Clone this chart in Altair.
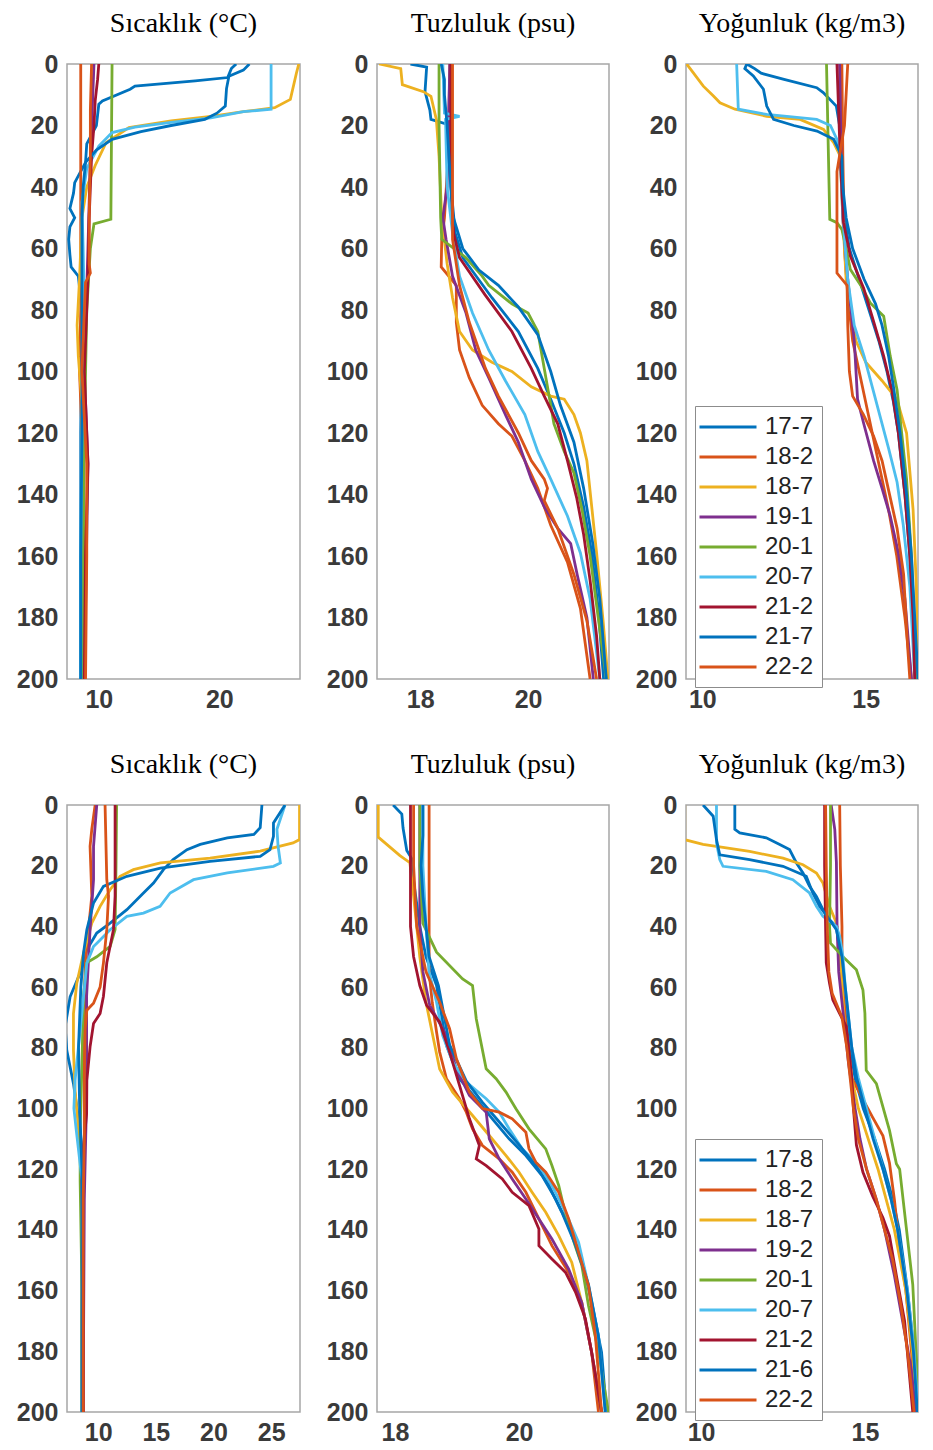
import altair as alt
import pandas as pd

TOP_STATIONS = ["17-7", "18-2", "18-7", "19-1", "20-1", "20-7", "21-2", "21-7", "22-2"]
BOTTOM_STATIONS = ["17-8", "18-2", "18-7", "19-2", "20-1", "20-7", "21-2", "21-6", "22-2"]
LINE_COLORS = ["#0072BD", "#D95319", "#EDB120", "#7E2F8E", "#77AC30",
               "#4DBEEE", "#A2142F", "#0072BD", "#D95319"]

DEPTH_TICKS = [0, 20, 40, 60, 80, 100, 120, 140, 160, 180, 200]
TITLES = ["Sıcaklık (°C)", "Tuzluluk (psu)", "Yoğunluk (kg/m3)"]

# (depth, value) pairs
TEMP_TOP = {
    "17-7": [(0, 21.4), (1.5, 21.0), (4.4, 20.7), (5.5, 18.0), (7.2, 13.0), (8.2, 12.6), (12, 10.3), (13.1, 10.0),
             (20, 9.8), (26, 9.0), (32, 8.9), (38.6, 8.0), (42, 7.9), (47, 7.6), (50, 8.0), (53, 7.6), (57, 7.5),
             (62, 7.6), (66, 7.7), (69, 8.3), (80, 8.6), (120, 8.5), (160, 8.5), (200, 8.5)],
    "18-2": [(0, 8.5), (20, 8.5), (50, 8.5), (80, 8.5), (100, 8.4), (130, 8.7), (160, 8.8), (200, 8.8)],
    "18-7": [(0, 26.6), (3, 26.4), (11.5, 25.9), (14.2, 24.6), (15.5, 22.0), (17, 19.3), (18.5, 16.0), (20.7, 12.5),
             (25.6, 10.6), (33, 9.7), (40, 9.0), (50, 8.6), (70, 8.4), (85, 8.2), (95, 8.3), (110, 8.6), (150, 8.6),
             (200, 8.6)],
    "19-1": [(0, 9.6), (30, 9.3), (60, 9.1), (100, 8.8), (130, 9.1), (200, 8.8)],
    "20-1": [(0, 11.1), (50.5, 11.0), (52, 9.6), (60, 9.3), (80, 9.0), (120, 8.8), (160, 8.7), (200, 8.7)],
    "20-7": [(0, 24.3), (14.7, 24.3), (15.5, 22.0), (17.5, 19.3), (19, 16.0), (20.5, 13.0), (22.3, 11.1), (26.7, 10.0),
             (34, 9.0), (45, 8.6), (60, 8.7), (80, 8.8), (120, 8.6), (160, 8.5), (200, 8.5)],
    "21-2": [(0, 10.0), (5, 9.9), (12, 9.7), (20, 9.6), (30, 9.4), (50, 9.2), (70, 9.1), (100, 8.8), (130, 9.1),
             (160, 8.9), (200, 8.8)],
    "21-7": [(0, 22.5), (2, 22.0), (4, 20.8), (8, 20.6), (13.7, 20.5), (16, 19.8), (18, 18.8), (20, 16.0), (22, 13.5),
             (24.5, 11.1), (28, 9.8), (32, 8.9), (40, 8.7), (50, 8.6), (80, 8.6), (120, 8.6), (160, 8.5), (200, 8.5)],
    "22-2": [(0, 9.4), (15, 9.3), (30, 9.3), (50, 9.2), (65, 9.2), (68, 9.3), (71, 8.9), (80, 8.8), (100, 8.6),
             (130, 9.0), (160, 9.0), (200, 8.9)],
}

SAL_TOP = {
    "17-7": [(0, 17.82), (1, 18.12), (9, 18.09), (15, 18.18), (18, 18.2), (19.5, 18.48), (21, 18.55), (40, 18.57),
             (55, 18.65), (63, 18.79), (76, 19.33), (87, 19.82), (99, 20.18), (109, 20.42), (120, 20.67), (130, 20.85),
             (144, 21.03), (159, 21.18), (177, 21.3), (200, 21.4)],
    "18-2": [(0, 18.55), (30, 18.52), (50, 18.45), (57, 18.4), (66, 18.39), (72, 18.67), (84, 18.67), (93, 18.73),
             (102, 18.91), (111, 19.15), (117, 19.45), (121, 19.7), (129, 19.94), (138, 20.18), (150, 20.42),
             (162, 20.73), (177, 20.97), (200, 21.15)],
    "18-7": [(0, 17.24), (1.5, 17.64), (6.7, 17.67), (9, 18.06), (10.5, 18.2), (18, 18.3), (30, 18.35), (50, 18.4),
             (65, 18.5), (76, 18.6), (87, 18.73), (93, 18.97), (97, 19.33), (100, 19.7), (105, 20.06), (108, 20.42),
             (109, 20.67), (114, 20.85), (120, 20.97), (129, 21.09), (144, 21.18), (159, 21.27), (181, 21.39),
             (200, 21.48)],
    "19-1": [(0, 18.55), (40, 18.5), (50, 18.42), (57, 18.48), (69, 18.6), (81, 18.85), (93, 19.03), (102, 19.27),
             (114, 19.58), (123, 19.82), (135, 20.06), (144, 20.3), (151, 20.55), (156, 20.79), (166, 20.91),
             (180, 21.09), (200, 21.21)],
    "20-1": [(0, 18.35), (20, 18.35), (50, 18.38), (57, 18.4), (63, 18.85), (69, 19.15), (72, 19.27), (78, 19.7),
             (81, 20.0), (87, 20.18), (99, 20.3), (111, 20.42), (117, 20.48), (126, 20.67), (133, 20.85), (145, 21.0),
             (160, 21.15), (180, 21.3), (200, 21.45)],
    "20-7": [(0, 18.42), (16, 18.45), (17, 18.73), (18, 18.47), (40, 18.5), (55, 18.6), (69, 18.73), (81, 18.97),
             (93, 19.27), (103, 19.58), (114, 19.94), (126, 20.18), (135, 20.42), (147, 20.73), (159, 20.97),
             (174, 21.15), (200, 21.33)],
    "21-2": [(0, 18.57), (20, 18.57), (40, 18.58), (55, 18.62), (63, 18.73), (75, 19.2), (87, 19.7), (99, 20.06),
             (108, 20.3), (117, 20.55), (129, 20.73), (141, 20.9), (153, 21.03), (168, 21.15), (186, 21.27),
             (200, 21.33)],
    "21-7": [(0, 18.39), (5, 18.45), (10, 18.45), (20, 18.5), (35, 18.55), (49, 18.6), (60, 18.79), (67, 19.09),
             (72, 19.45), (79, 19.82), (88, 20.18), (100, 20.42), (111, 20.6), (123, 20.85), (138, 21.03),
             (156, 21.2), (174, 21.33), (200, 21.45)],
    "22-2": [(0, 18.6), (40, 18.6), (57, 18.6), (72, 18.73), (84, 18.91), (99, 19.21), (108, 19.45), (120, 19.82),
             (129, 20.06), (135, 20.3), (138, 20.36), (142, 20.3), (151, 20.55), (166, 20.85), (181, 21.09),
             (200, 21.27)],
}

DENS_TOP = {
    "17-7": [(0, 11.36), (1.5, 11.6), (3, 11.8), (5, 12.5), (7.7, 13.5), (9.3, 13.7), (13.7, 14.1), (20, 14.2),
             (30, 14.25), (40, 14.3), (50, 14.35), (60, 14.5), (70, 14.8), (80, 15.1), (90, 15.4), (100, 15.65),
             (110, 15.85), (120, 16.0), (140, 16.2), (160, 16.35), (180, 16.45), (200, 16.55)],
    "18-2": [(0, 14.27), (30, 14.3), (60, 14.35), (75, 14.45), (90, 14.6), (100, 14.8), (110, 15.0), (120, 15.2),
             (130, 15.4), (145, 15.7), (160, 15.95), (180, 16.2), (200, 16.4)],
    "18-7": [(0, 9.52), (2.8, 9.72), (7.2, 10.03), (10.4, 10.34), (12.6, 10.54), (14.7, 11.0), (17, 11.97),
             (18, 12.99), (21.3, 13.71), (25.6, 14.02), (30, 14.22), (50, 14.3), (70, 14.4), (80, 14.55), (90, 14.7),
             (97, 15.0), (103, 15.5), (109, 15.95), (120, 16.25), (145, 16.45), (170, 16.55), (200, 16.6)],
    "19-1": [(0, 14.2), (30, 14.25), (50, 14.3), (70, 14.45), (90, 14.65), (109, 14.75), (117, 14.94), (129, 15.24),
             (138, 15.5), (147, 15.75), (159, 16.0), (174, 16.2), (200, 16.4)],
    "20-1": [(0, 13.8), (50.5, 13.9), (51.6, 14.12), (53.8, 14.27), (60, 14.4), (66.8, 14.53), (72, 14.85),
             (77.7, 15.14), (82, 15.55), (95, 15.75), (106, 15.96), (120, 16.1), (135, 16.25), (160, 16.4),
             (200, 16.55)],
    "20-7": [(0, 11.05), (14.7, 11.1), (16.4, 11.97), (18, 13.5), (20, 13.92), (24.5, 14.12), (30, 14.22), (50, 14.3),
             (70, 14.45), (85, 14.65), (95, 14.95), (105, 15.2), (115, 15.45), (125, 15.7), (136, 15.96), (150, 16.15),
             (170, 16.35), (200, 16.5)],
    "21-2": [(0, 14.12), (30, 14.22), (51.6, 14.32), (62.5, 14.53), (73, 14.94), (84, 15.25), (95, 15.55),
             (106, 15.8), (120, 16.0), (140, 16.2), (160, 16.35), (180, 16.45), (200, 16.5)],
    "21-7": [(0, 11.36), (1.5, 11.3), (3.9, 11.56), (8.2, 11.87), (13.7, 11.97), (18, 12.18), (20, 12.8),
             (21.8, 13.51), (24.5, 14.02), (30, 14.27), (40, 14.3), (50, 14.4), (60, 14.6), (70, 14.95), (78, 15.3),
             (85, 15.5), (95, 15.7), (105, 15.85), (120, 16.05), (140, 16.25), (160, 16.4), (180, 16.5), (200, 16.6)],
    "22-2": [(0, 14.45), (20, 14.35), (35, 14.12), (50, 14.12), (68, 14.12), (72, 14.43), (85, 14.45), (100, 14.5),
             (108, 14.6), (114, 14.93), (121, 15.24), (129, 15.5), (141, 15.75), (151, 15.96), (166, 16.16),
             (189, 16.28), (200, 16.35)],
}

TEMP_BOTTOM = {
    "17-8": [(0, 24.2), (7.5, 24.05), (9.7, 23.5), (10.8, 21.2), (13, 18.85), (14.7, 17.7), (18, 16.5), (21.3, 15.66),
             (25.7, 14.8), (29, 13.93), (34.5, 12.49), (38.9, 11.04), (42.2, 9.88), (47.7, 9.02), (55.4, 8.44),
             (63.2, 7.57), (73, 7.14), (80.8, 7.28), (91.8, 7.86), (107, 8.44), (118, 8.7), (140, 8.65), (170, 8.6),
             (200, 8.6)],
    "18-2": [(0, 9.74), (8, 9.45), (13.6, 9.3), (30, 9.45), (41, 9.16), (52, 8.87), (85, 8.8), (107, 8.87), (129, 8.7),
             (200, 8.7)],
    "18-7": [(0, 27.46), (11.4, 27.46), (12.5, 26.9), (15.2, 24.05), (17.5, 19.7), (19.1, 15.4), (21.3, 13.06),
             (23.5, 11.9), (27.9, 11.04), (33.4, 10.17), (38.9, 9.45), (48.8, 8.73), (58.7, 8.15), (68.7, 7.86),
             (80.8, 7.86), (94, 8.0), (107, 8.3), (118, 8.6), (160, 8.6), (200, 8.6)],
    "19-2": [(0, 9.88), (13.6, 9.6), (24.6, 9.6), (41, 9.3), (63, 9.0), (96, 9.0), (130, 8.8), (200, 8.7)],
    "20-1": [(0, 11.6), (20, 11.55), (41, 11.47), (46.6, 11.04), (50, 9.88), (52, 9.0), (63, 8.73), (85, 8.6),
             (107, 8.44), (124, 8.44), (160, 8.6), (200, 8.6)],
    "20-7": [(0, 26.2), (8, 25.5), (13.6, 25.6), (19.1, 25.8), (20.2, 25.2), (22.4, 21.2), (24.6, 18.27), (29, 16.24),
             (33.4, 15.37), (35.6, 13.93), (36.7, 12.49), (41.1, 11.04), (44.5, 10.17), (46.6, 9.6), (52.1, 9.02),
             (63.2, 8.73), (74.2, 8.44), (90.7, 8.0), (100, 7.9), (107, 8.1), (123.7, 8.6), (160, 8.65), (200, 8.6)],
    "21-2": [(0, 11.47), (30, 11.47), (41, 11.33), (52, 10.75), (63, 10.46), (68.7, 10.17), (72, 9.6), (79.7, 9.3),
             (90.7, 9.02), (101.7, 9.0), (112.7, 8.73), (123.7, 8.6), (160, 8.7), (200, 8.7)],
    "21-6": [(0, 26.2), (5.9, 25.2), (10.3, 25.2), (14.7, 24.9), (16.9, 24.05), (18.6, 19.7), (20.8, 15.4),
             (23.5, 12.49), (26.8, 10.46), (32.3, 9.6), (41.1, 9.02), (48.8, 8.73), (60, 8.5), (80, 8.3), (100, 8.4),
             (120, 8.6), (160, 8.6), (200, 8.6)],
    "22-2": [(0, 10.6), (24.6, 10.75), (30, 10.9), (41, 10.75), (52, 10.46), (60, 10.17), (65.3, 9.6), (67.6, 9.02),
             (74, 8.87), (90, 8.8), (110, 8.8), (130, 8.7), (200, 8.7)],
}

SAL_BOTTOM = {
    "17-8": [(0, 17.97), (3, 18.11), (7.6, 18.13), (15, 18.19), (18, 18.28), (25, 18.3), (40, 18.4), (50, 18.5),
             (59.5, 18.67), (79.2, 18.83), (90.2, 19.04), (96.8, 19.31), (103.4, 19.57), (110, 19.84), (115.5, 20.11),
             (122.1, 20.37), (129.8, 20.59), (138.6, 20.8), (149.6, 21.01), (163.9, 21.17), (180.3, 21.33),
             (200, 21.41)],
    "18-2": [(0, 18.55), (20, 18.55), (40, 18.55), (55, 18.55), (65, 18.6), (74.8, 18.67), (81.4, 18.72),
             (90.2, 18.83), (96.8, 19.04), (101.2, 19.15), (106.7, 19.25), (112.2, 19.41), (116.6, 19.68),
             (121, 19.89), (127.6, 20.11), (136.4, 20.32), (145.2, 20.53), (154, 20.8), (163.9, 21.01),
             (180.3, 21.17), (200, 21.28)],
    "18-7": [(0, 17.73), (10.6, 17.73), (16.7, 18.08), (19, 18.24), (30, 18.3), (50, 18.4), (65, 18.5), (76, 18.61),
             (87, 18.72), (94.6, 18.93), (102.3, 19.25), (108.9, 19.52), (115.5, 19.79), (121, 20.0), (127.6, 20.21),
             (134.2, 20.43), (141.9, 20.64), (150.7, 20.85), (163.9, 21.01), (180.3, 21.17), (200, 21.33)],
    "19-2": [(0, 18.4), (20, 18.4), (40, 18.4), (55, 18.45), (66, 18.56), (76, 18.83), (87, 18.99), (95.7, 19.2),
             (101.2, 19.47), (110, 19.52), (116.6, 19.68), (123.2, 19.89), (129.8, 20.11), (136.4, 20.32),
             (143, 20.53), (152.9, 20.8), (163.9, 21.01), (180.3, 21.17), (200, 21.33)],
    "20-1": [(0, 18.4), (20, 18.4), (39, 18.45), (48.5, 18.67), (57.3, 19.09), (59.5, 19.25), (70.4, 19.31),
             (86.9, 19.47), (90.2, 19.63), (94.6, 19.79), (100.1, 19.95), (106.7, 20.16), (113.3, 20.43),
             (118.8, 20.53), (125.4, 20.64), (135, 20.75), (145, 20.9), (151.5, 21.01), (165, 21.12), (180, 21.28),
             (200, 21.44)],
    "20-7": [(0, 18.45), (20, 18.45), (40, 18.5), (55, 18.55), (65, 18.67), (76, 18.77), (84.7, 18.93), (91.3, 19.15),
             (96.8, 19.47), (101.2, 19.68), (106.7, 19.84), (113.3, 20.05), (118.8, 20.32), (125.4, 20.53),
             (134.2, 20.75), (144.1, 20.96), (158.4, 21.12), (174.8, 21.28), (200, 21.39)],
    "21-2": [(0, 18.25), (20, 18.25), (40, 18.25), (50, 18.3), (59.5, 18.4), (66, 18.51), (71.5, 18.72),
             (81.4, 18.88), (92.4, 19.04), (103.4, 19.2), (112.2, 19.36), (116.6, 19.31), (118.8, 19.47),
             (123.2, 19.73), (127.6, 19.89), (132, 20.16), (139.7, 20.32), (145.2, 20.32), (149.6, 20.53),
             (154, 20.75), (160.5, 20.91), (169.3, 21.07), (180.3, 21.17), (200, 21.33)],
    "21-6": [(0, 18.45), (10, 18.45), (20, 18.42), (30, 18.45), (40, 18.5), (50, 18.55), (59.5, 18.7), (79, 18.88),
             (91, 19.15), (98, 19.41), (105.6, 19.73), (112, 20.0), (118.8, 20.27), (125.4, 20.48), (134.2, 20.69),
             (145, 20.91), (158, 21.12), (175, 21.28), (200, 21.39)],
    "22-2": [(0, 18.3), (20, 18.3), (40, 18.35), (55, 18.5), (65, 18.72), (73.7, 18.88), (83.6, 18.99), (94.6, 19.2),
             (100, 19.41), (101.2, 19.68), (103.4, 19.89), (107.8, 20.11), (113.3, 20.16), (117.7, 20.27),
             (121, 20.43), (127.6, 20.64), (136.4, 20.8), (147.4, 20.96), (158.4, 21.12), (174.8, 21.23),
             (200, 21.33)],
}

DENS_BOTTOM = {
    "17-8": [(0, 11.03), (8, 11.03), (9.2, 11.18), (10.8, 11.99), (13, 12.4), (14.7, 12.7), (19.1, 12.91),
             (22.4, 13.11), (26.8, 13.31), (30.1, 13.52), (34.5, 13.72), (37.8, 13.92), (40, 14.13), (50, 14.25),
             (60, 14.35), (70, 14.45), (80, 14.55), (90, 14.7), (100, 14.95), (110, 15.3), (120, 15.6), (130, 15.85),
             (140, 16.05), (160, 16.3), (180, 16.5), (200, 16.62)],
    "18-2": [(0, 14.23), (20, 14.25), (40, 14.3), (50, 14.3), (60, 14.35), (70, 14.4), (80, 14.5), (90, 14.6),
             (97, 14.94), (103, 15.24), (109, 15.55), (118, 15.75), (130, 15.9), (145, 16.05), (160, 16.25),
             (180, 16.42), (200, 16.55)],
    "18-7": [(0, 9.5), (11.4, 9.5), (13, 10.06), (15.3, 11.48), (17.5, 12.5), (19.7, 13.11), (22.4, 13.52),
             (25.7, 13.72), (33.4, 13.92), (38.9, 14.13), (45, 14.2), (60, 14.3), (75, 14.4), (90, 14.6), (100, 14.8),
             (110, 15.1), (120, 15.4), (130, 15.65), (140, 15.9), (160, 16.25), (180, 16.45), (200, 16.6)],
    "19-2": [(0, 13.97), (8, 14.08), (19, 14.13), (40, 14.15), (55, 14.2), (70, 14.35), (85, 14.5), (100, 14.7),
             (110, 14.85), (120, 15.05), (130, 15.35), (140, 15.6), (155, 15.9), (170, 16.15), (185, 16.4),
             (200, 16.55)],
    "20-1": [(0, 13.95), (20, 13.95), (40, 13.92), (45.5, 13.95), (50, 14.33), (54.3, 14.74), (61, 14.94),
             (68.7, 15.0), (87.4, 15.04), (91.8, 15.35), (107.2, 15.75), (118.2, 15.96), (120, 16.06), (139, 16.26),
             (158, 16.46), (180, 16.56), (200, 16.67)],
    "20-7": [(0, 10.47), (12.5, 10.47), (18, 10.57), (20.2, 10.67), (21.9, 11.99), (24.6, 12.8), (29, 13.31),
             (33.4, 13.52), (36.7, 13.72), (40, 14.13), (43.3, 14.23), (50, 14.33), (60, 14.4), (70, 14.5),
             (80, 14.6), (90, 14.8), (100, 15.05), (110, 15.3), (120, 15.55), (130, 15.8), (140, 16.0), (160, 16.3),
             (180, 16.5), (200, 16.62)],
    "21-2": [(0, 13.77), (20, 13.77), (40, 13.8), (52, 13.82), (58.7, 13.92), (64.2, 14.02), (68.7, 14.23),
             (73, 14.43), (80, 14.5), (90, 14.6), (100, 14.65), (112, 14.74), (121, 14.94), (129, 15.24),
             (136, 15.55), (142, 15.75), (155, 15.96), (170, 16.21), (188, 16.36), (200, 16.46)],
    "21-6": [(0, 10.06), (3.7, 10.37), (11.4, 10.47), (16.4, 10.57), (18, 11.48), (20.2, 12.5), (23.5, 13.21),
             (29, 13.41), (33.4, 13.62), (37.8, 13.92), (41.1, 14.13), (50, 14.3), (60, 14.4), (70, 14.5), (80, 14.6),
             (90, 14.75), (100, 15.0), (110, 15.25), (120, 15.55), (130, 15.8), (140, 16.0), (160, 16.28),
             (180, 16.48), (200, 16.6)],
    "22-2": [(0, 13.8), (20, 13.82), (40, 13.85), (55, 13.9), (62, 14.0), (70, 14.3), (80, 14.45), (90, 14.55),
             (100, 14.65), (110, 14.8), (120, 15.05), (130, 15.35), (140, 15.6), (150, 15.85), (165, 16.1),
             (180, 16.3), (200, 16.5)],
}

TEMP_TOP_DOMAIN, TEMP_TOP_TICKS = [7.36, 26.7], [10, 20]
SAL_TOP_DOMAIN, SAL_TOP_TICKS = [17.2, 21.5], [18, 20]
DENS_TOP_DOMAIN, DENS_TOP_TICKS = [9.5, 16.6], [10, 15]
TEMP_BOTTOM_DOMAIN, TEMP_BOTTOM_TICKS = [7.3, 27.5], [10, 15, 20, 25]
SAL_BOTTOM_DOMAIN, SAL_BOTTOM_TICKS = [17.71, 21.45], [18, 20]
DENS_BOTTOM_DOMAIN, DENS_BOTTOM_TICKS = [9.54, 16.62], [10, 15]

AXIS_FONT = "Liberation Sans"


def panel(profiles, stations, title, xdomain, xticks, width, height, with_legend=False):
    rows = []
    for s in stations:
        for i, (d, v) in enumerate(profiles[s]):
            rows.append({"station": s, "depth": d, "value": v, "i": i})
    df = pd.DataFrame(rows)
    if with_legend:
        legend = alt.Legend(
            title=None, orient="none", legendX=9, legendY=height - 273, direction="vertical",
            symbolType="M-2.5,0L2.5,0", symbolSize=520, symbolStrokeWidth=3,
            symbolOffset=12, labelOffset=24,
            labelFont=AXIS_FONT, labelFontSize=24, labelColor="#222222",
            rowPadding=5, padding=8, strokeColor="#8c8c8c", fillColor="white",
        )
    else:
        legend = None
    return alt.Chart(df, title=alt.Title(
        title, font="Liberation Serif", fontSize=28, fontWeight="normal", color="black", offset=14
    )).mark_line(strokeWidth=2.8, clip=True).encode(
        x=alt.X("value:Q", scale=alt.Scale(domain=xdomain, nice=False, zero=False),
                axis=alt.Axis(values=xticks, title=None, labelPadding=8, minExtent=32, maxExtent=32)),
        y=alt.Y("depth:Q", scale=alt.Scale(domain=[0, 200], reverse=True, nice=False, zero=False),
                axis=alt.Axis(values=DEPTH_TICKS, title=None, labelPadding=9, minExtent=55, maxExtent=55)),
        color=alt.Color("station:N", scale=alt.Scale(domain=stations, range=LINE_COLORS), legend=legend),
        order=alt.Order("i:Q"),
    ).properties(width=width, height=height)


top = alt.hconcat(
    panel(TEMP_TOP, TOP_STATIONS, TITLES[0], TEMP_TOP_DOMAIN, TEMP_TOP_TICKS, 233, 615),
    panel(SAL_TOP, TOP_STATIONS, TITLES[1], SAL_TOP_DOMAIN, SAL_TOP_TICKS, 232, 615),
    panel(DENS_TOP, TOP_STATIONS, TITLES[2], DENS_TOP_DOMAIN, DENS_TOP_TICKS, 232, 615, with_legend=True),
    spacing=20,
).resolve_scale(color="independent").resolve_legend(color="independent")

bottom = alt.hconcat(
    panel(TEMP_BOTTOM, BOTTOM_STATIONS, TITLES[0], TEMP_BOTTOM_DOMAIN, TEMP_BOTTOM_TICKS, 233, 607),
    panel(SAL_BOTTOM, BOTTOM_STATIONS, TITLES[1], SAL_BOTTOM_DOMAIN, SAL_BOTTOM_TICKS, 232, 607),
    panel(DENS_BOTTOM, BOTTOM_STATIONS, TITLES[2], DENS_BOTTOM_DOMAIN, DENS_BOTTOM_TICKS, 232, 607, with_legend=True),
    spacing=20,
).resolve_scale(color="independent").resolve_legend(color="independent")

chart = alt.vconcat(top, bottom, spacing=37).resolve_scale(color="independent").resolve_legend(
    color="independent"
).properties(
    padding={"left": 11, "top": 9, "right": 10, "bottom": 5},
    background="white",
).configure_view(
    stroke="#a6a6a6", strokeWidth=1.5
).configure_axis(
    labelFont=AXIS_FONT, labelFontSize=25, labelFontWeight="bold", labelColor="#3a3a3a",
    ticks=False, domain=False, grid=False,
)

chart.save("out.html", embed_options={"renderer": "svg", "actions": False})
